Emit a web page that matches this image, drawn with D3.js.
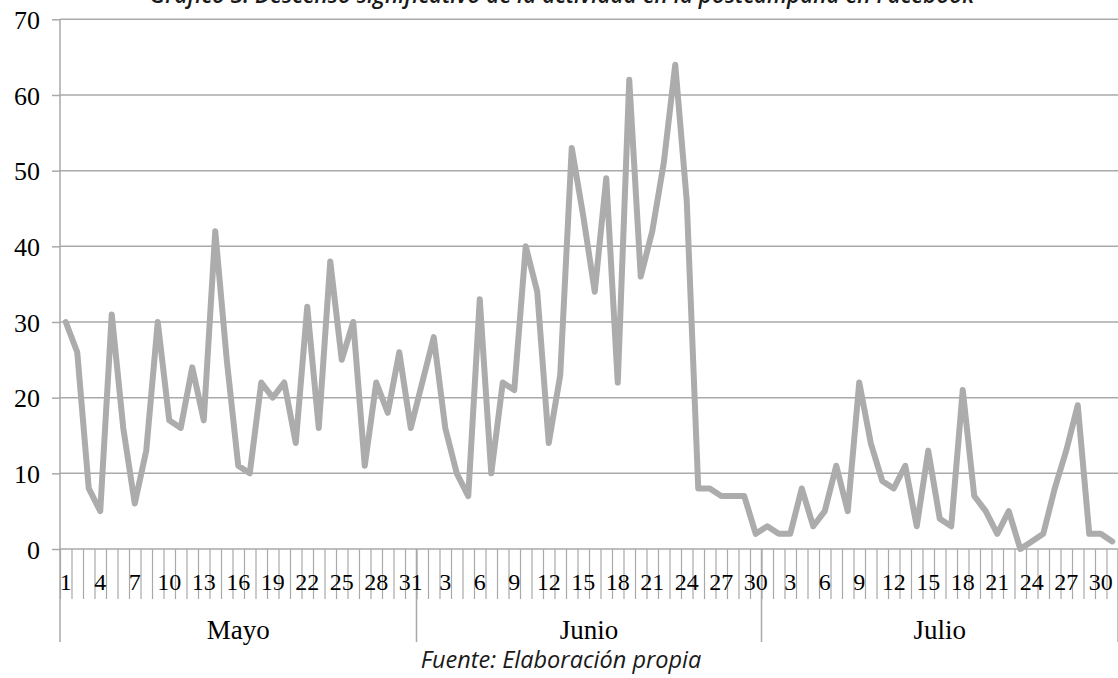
<!DOCTYPE html>
<html>
<head>
<meta charset="utf-8">
<script src="https://cdn.jsdelivr.net/npm/d3@7"></script>
<style>
	html, body { margin: 0; padding: 0; background: #fff; }
	svg { display: block; }
	.serif { font-family: "Liberation Serif", "DejaVu Serif", serif; fill: #000; }
	.note { font-family: "Open Sans", "Noto Sans", sans-serif; font-style: italic; fill: #1a1a1a; }
</style>
</head>
<body>
<div id="graphDiv"></div>
<script>
var months = ["Mayo", "Junio", "Julio"];
var monthDays = [31, 30, 31];

var mayo = [30, 26, 8, 5, 31, 16, 6, 13, 30, 17, 16, 24, 17, 42, 25, 11, 10, 22, 20, 22,
	14, 32, 16, 38, 25, 30, 11, 22, 18, 26, 16];
var junio = [22, 28, 16, 10, 7, 33, 10, 22, 21, 40, 34, 14, 23, 53, 44, 34, 49, 22, 62, 36,
	42, 51, 64, 46, 8, 8, 7, 7, 7, 2];
var julio = [3, 2, 2, 8, 3, 5, 11, 5, 22, 14, 9, 8, 11, 3, 13, 4, 3, 21, 7, 5,
	2, 5, 0, 1, 2, 8, 13, 19, 2, 2, 1];

var yTicks = [0, 10, 20, 30, 40, 50, 60, 70];
var titleText = "Gráfico 3: Descenso significativo de la actividad en la postcampaña en Facebook";
var sourceText = "Fuente: Elaboración propia";

(function() {
	var width = 1118,
		height = 678,
		left = 60,
		right = 1118,
		top = 19.3,
		bottom = 549,
		gridColor = "#a9a9a9",
		lineColor = "#acacac";

	// one entry per day, month label kept for the day numbers under the axis
	var values = [];
	[mayo, junio, julio].forEach(function(arr, m) {
		arr.forEach(function(v, i) {
			values.push({ idx: values.length, day: i + 1, month: months[m], value: v });
		});
	});
	var count = values.length;

	var svg = d3.select("#graphDiv").append("svg")
		.attr("width", width)
		.attr("height", height);

	var x = d3.scaleLinear().domain([0, count]).range([left, right]);
	var y = d3.scaleLinear().domain([0, 70]).range([bottom, top]);

	// horizontal gridlines + y labels
	var yAxis = svg.append("g")
		.attr("transform", "translate(" + left + ",0)")
		.call(d3.axisLeft(y).tickValues(yTicks).tickSize(8).tickFormat(d3.format("d")));
	yAxis.select(".domain").remove();
	yAxis.selectAll("line").attr("stroke", gridColor).attr("stroke-width", 1.5);
	yAxis.selectAll("text")
		.attr("class", "serif")
		.attr("x", -20)
		.attr("dy", "0.35em")
		.style("font-size", "26px");

	svg.append("g")
		.selectAll("line")
		.data(yTicks.filter(function(d) { return d > 0; }))
		.enter()
		.append("line")
		.attr("x1", left)
		.attr("x2", right)
		.attr("y1", function(d) { return y(d); })
		.attr("y2", function(d) { return y(d); })
		.attr("stroke", gridColor)
		.attr("stroke-width", 1.5);

	// category tick marks between days
	var xAxis = svg.append("g")
		.attr("transform", "translate(0," + bottom + ")")
		.call(d3.axisBottom(x).tickValues(d3.range(0, count + 1)).tickSize(50).tickFormat(""));
	xAxis.select(".domain").remove();
	xAxis.selectAll("line").attr("stroke", gridColor).attr("stroke-width", 1.2);

	// axis lines
	svg.append("line")
		.attr("x1", left).attr("x2", right)
		.attr("y1", bottom).attr("y2", bottom)
		.attr("stroke", gridColor).attr("stroke-width", 1.5);

	// month separators
	var edges = [0];
	monthDays.forEach(function(n) { edges.push(edges[edges.length - 1] + n); });
	svg.append("g")
		.selectAll("line")
		.data(edges)
		.enter()
		.append("line")
		.attr("x1", function(d) { return x(d); })
		.attr("x2", function(d) { return x(d); })
		.attr("y1", function(d) { return d === 0 ? top : bottom; })
		.attr("y2", 642)
		.attr("stroke", gridColor)
		.attr("stroke-width", 1.5);

	// day labels, every third category
	svg.append("g")
		.selectAll("text")
		.data(values.filter(function(d) { return d.idx % 3 === 0; }))
		.enter()
		.append("text")
		.attr("class", "serif")
		.attr("text-anchor", "middle")
		.attr("x", function(d) { return x(d.idx + 0.5); })
		.attr("y", 590)
		.style("font-size", "24px")
		.text(function(d) { return d.day; });

	// month labels
	svg.append("g")
		.selectAll("text")
		.data(months)
		.enter()
		.append("text")
		.attr("class", "serif")
		.attr("text-anchor", "middle")
		.attr("x", function(d, i) { return x((edges[i] + edges[i + 1]) / 2); })
		.attr("y", 639)
		.style("font-size", "27px")
		.text(function(d) { return d; });

	// the series
	var line = d3.line()
		.x(function(d) { return x(d.idx + 0.5); })
		.y(function(d) { return y(d.value); });

	svg.append("path")
		.datum(values)
		.attr("d", line)
		.attr("fill", "none")
		.attr("stroke", lineColor)
		.attr("stroke-width", 6)
		.attr("stroke-linejoin", "round")
		.attr("stroke-linecap", "round");

	// title (cut at the top like the original) and source note
	svg.append("text")
		.attr("class", "note")
		.attr("text-anchor", "middle")
		.attr("x", 562)
		.attr("y", 3)
		.style("font-size", "22.5px")
		.style("font-weight", 600)
		.text(titleText);

	svg.append("text")
		.attr("class", "note")
		.attr("text-anchor", "middle")
		.attr("x", 561)
		.attr("y", 668)
		.style("font-size", "23.5px")
		.text(sourceText);
}());
</script>
</body>
</html>
